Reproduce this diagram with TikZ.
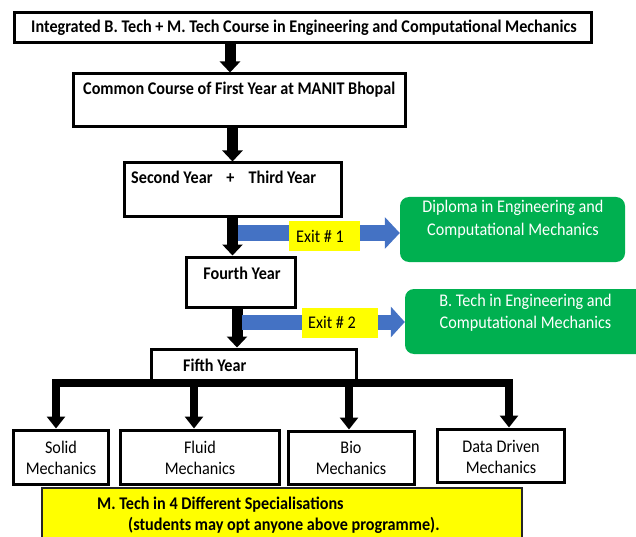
\documentclass[tikz,border=0pt]{standalone}
\usepackage{fontspec}
\setmainfont{Carlito}[FakeStretch=0.91]
\usetikzlibrary{arrows.meta}
\definecolor{exblue}{HTML}{4472C4}
\definecolor{exgreen}{HTML}{00B050}
\definecolor{exyellow}{HTML}{FFFF00}
\begin{document}
\begin{tikzpicture}[x=1pt,y=-1pt,
  box/.style={draw=black,line width=3pt,fill=white,inner sep=0pt},
  gbox/.style={fill=exgreen,rounded corners=9pt,inner sep=0pt},
  ylab/.style={fill=exyellow,inner sep=0pt},
  txt/.style={font=\fontsize{17.8}{22}\selectfont\bfseries,inner sep=0pt,anchor=base west},
  ctxt/.style={font=\fontsize{17.8}{22}\selectfont,inner sep=0pt,anchor=base},
  wtxt/.style={font=\fontsize{17.8}{22}\selectfont,text=white,inner sep=0pt,anchor=base},
  rtxt/.style={font=\fontsize{17.8}{22}\selectfont,inner sep=0pt,anchor=base west},
  bigarr/.style={line width=11pt,-{Triangle[width=20pt,length=11pt]}},
  smallarr/.style={line width=8pt,-{Triangle[width=18pt,length=12pt]}},
  blarr/.style={draw=exblue,line width=16pt,-{Triangle[width=31pt,length=15pt]}}
]
\useasboundingbox (0,0) rectangle (636,537);

% main boxes
\node[box,minimum width=577pt,minimum height=30pt] (b1) at (302.5,28) {};
\node[box,minimum width=332pt,minimum height=53pt] (b2) at (239,100.5) {};
\node[box,minimum width=217pt,minimum height=53pt] (b3) at (232.5,189.5) {};
\node[box,minimum width=109pt,minimum height=50pt] (b4) at (240.5,282) {};
\node[box,minimum width=205pt,minimum height=31pt] (b5) at (253.5,364.5) {};

% green exit boxes
\node[gbox,minimum width=225pt,minimum height=65pt] (g1) at (512.5,229.5) {};
\node[gbox,minimum width=240pt,minimum height=65pt] (g2) at (525,321.5) {};

% specialisation boxes
\node[box,minimum width=95pt,minimum height=54pt] (s1) at (60.5,457) {};
\node[box,minimum width=159pt,minimum height=54pt] (s2) at (199.5,457) {};
\node[box,minimum width=126pt,minimum height=53pt] (s3) at (351,457.5) {};
\node[box,minimum width=127pt,minimum height=53pt] (s4) at (500.5,455.5) {};

% bottom yellow box
\node[draw=black!85,line width=1.5pt,fill=exyellow,minimum width=480pt,minimum height=57pt,inner sep=0pt] (my) at (282,516.5) {};

% black arrows
\draw[bigarr] ([xshift=-72.5pt]b1.south) -- ([xshift=-9pt]b2.north);
\draw[bigarr] (b2.south -| b3.north) -- (b3.north);
\draw[bigarr] (b3.south) -- (b4.north -| b3.south);
\draw[bigarr] ([xshift=-3.5pt]b4.south) -- ([xshift=-16.5pt]b5.north);

% blue exit arrows
\coordinate (e1s) at (238,233);
\coordinate (e2s) at (242,322);
\draw[blarr] (e1s) -- (e1s -| g1.west);
\draw[blarr,line width=15pt,-{Triangle[width=30pt,length=14pt]}] (e2s) -- (e2s -| g2.west);

% yellow exit labels
\node[ylab,minimum width=71pt,minimum height=30pt] (y1) at (324.5,236) {};
\node[ylab,minimum width=76pt,minimum height=30pt] (y2) at (340,323) {};
\node[rtxt] (y1t) at (296,242) {Exit \# 1};
\node[rtxt] (y2t) at (308,328) {Exit \# 2};

% distribution bar
\coordinate (bA) at (56,383);
\coordinate (bB) at (194,383);
\coordinate (bC) at (349,383);
\coordinate (bD) at (509,383);
\draw[line width=8pt] ([xshift=-4pt]bA) -- ([xshift=4pt]bD);
\draw[smallarr] ([yshift=4pt]bA) -- (bA |- s1.north);
\draw[smallarr] ([yshift=4pt]bB) -- (bB |- s2.north);
\draw[smallarr] ([yshift=4pt]bC) -- (bC |- s3.north);
\draw[smallarr] ([yshift=4pt]bD) -- (bD |- s4.north);

% texts
\node[txt] (t1) at (31,33) {Integrated B. Tech + M. Tech Course in Engineering and Computational Mechanics};
\node[txt] (t2) at (83,95) {Common Course of First Year at MANIT Bhopal};
\node[txt] (t3) at (131,184) {Second Year\hspace{14pt}+\hspace{14pt}Third Year};
\node[txt,anchor=base] (t4) at (242,279) {Fourth Year};
\node[txt] (t5) at (183,371) {Fifth Year};

\node[wtxt] (g1a) at (513,212) {Diploma in Engineering and};
\node[wtxt] (g1b) at (513,235) {Computational Mechanics};
\node[wtxt] (g2a) at (525.5,306) {B. Tech in Engineering and};
\node[wtxt] (g2b) at (525.5,328) {Computational Mechanics};

\node[ctxt] (s1a) at (61,453) {Solid};
\node[ctxt] (s1b) at (61,474) {Mechanics};
\node[ctxt] (s2a) at (200,453) {Fluid};
\node[ctxt] (s2b) at (200,474) {Mechanics};
\node[ctxt] (s3a) at (351,453) {Bio};
\node[ctxt] (s3b) at (351,474) {Mechanics};
\node[ctxt] (s4a) at (501,452) {Data Driven};
\node[ctxt] (s4b) at (501,473) {Mechanics};

\node[txt] (m1) at (97,509) {M. Tech in 4 Different Specialisations};
\node[txt] (m2) at (128,530) {(students may opt anyone above programme).};
\end{tikzpicture}
\end{document}
